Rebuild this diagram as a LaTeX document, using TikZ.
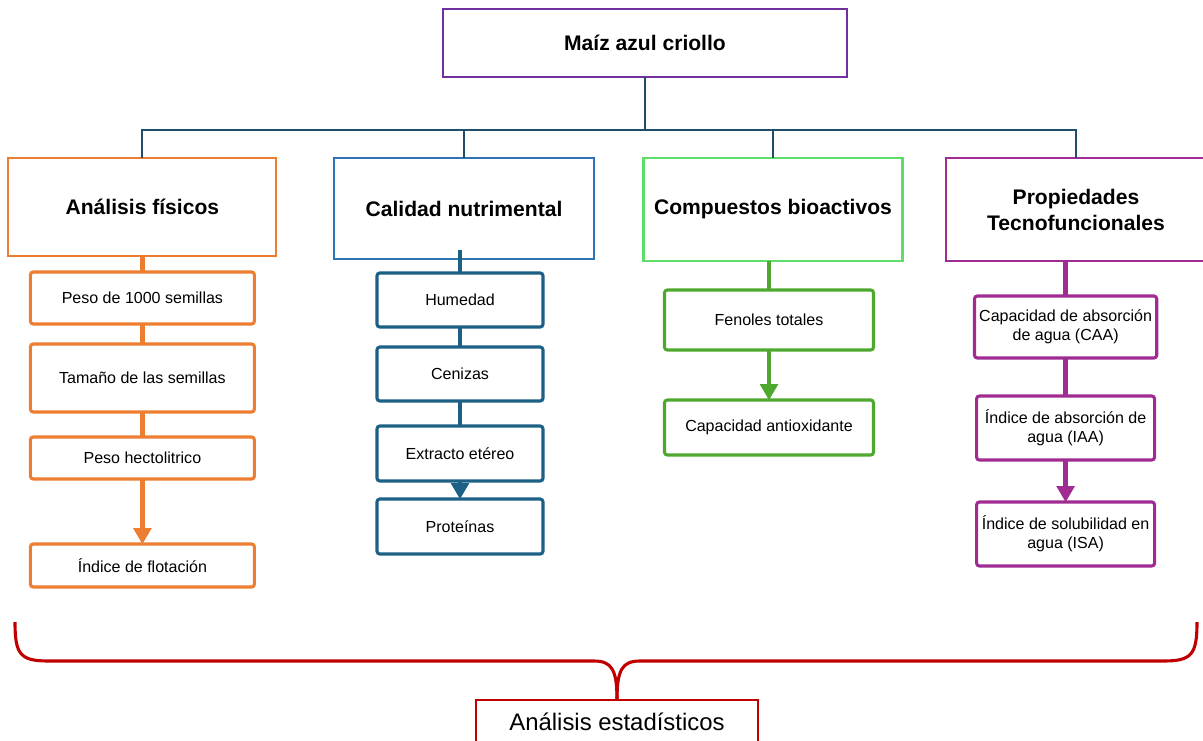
\documentclass[tikz,border=0pt]{standalone}
\usepackage{fontspec}
\setmainfont{Liberation Sans}
\usetikzlibrary{arrows.meta, positioning}

\definecolor{orangeA}{HTML}{ED7D31}
\definecolor{blueA}{HTML}{2E75B6}
\definecolor{blueB}{HTML}{1D6086}
\definecolor{greenA}{HTML}{5FDD6B}
\definecolor{greenB}{HTML}{4EA72E}
\definecolor{purpleA}{HTML}{7030A0}
\definecolor{magentaA}{HTML}{A02B93}
\definecolor{treeline}{HTML}{1F4E69}
\definecolor{redA}{HTML}{C00000}

\begin{document}
\begin{tikzpicture}[
		topbox/.style={draw=purpleA, line width=1.5pt, outer sep=0pt, minimum width=10.1cm, minimum height=1.7cm, font=\fontsize{15}{18}\selectfont\bfseries},
		groupbox/.style={draw=#1, line width=1.5pt, outer sep=0pt, align=center, anchor=north, minimum width=6.5cm, font=\fontsize{15}{18.5}\selectfont\bfseries},
		itembox/.style={draw=#1, fill=white, line width=2.2pt, outer sep=0pt, rounded corners=2pt, align=center, font=\fontsize{11.4}{13.5}\selectfont},
		fisitem/.style={itembox=orangeA, minimum width=5.6cm},
		nutitem/.style={itembox=blueB, minimum width=4.15cm},
		bioitem/.style={itembox=greenB, minimum width=5.225cm},
		tecitem/.style={itembox=magentaA, minimum width=4.45cm},
		statbox/.style={draw=redA, line width=1pt, outer sep=0pt, anchor=north, minimum width=7.05cm, minimum height=1.1cm, font=\fontsize{17}{20}\selectfont},
		tree/.style={draw=treeline, line width=1.4pt},
		link/.style={draw=#1, line width=3.5pt},
		arrow/.style={draw=#1, line width=3.5pt, -{Triangle[width=0.47cm, length=0.4cm, line width=0pt]}},
		brace/.style={draw=redA, line width=2.2pt},
		]
		\useasboundingbox (0,0) rectangle (30.075,-18.5);
		
		% Root
		\node[topbox] (maiz) at (16.125,-1.075) {Maíz azul criollo};
		\coordinate (bus) at (16.125,-3.25);
		
		% Groups
		\node[groupbox=orangeA, minimum width=6.7cm, minimum height=2.45cm] (fis) at (3.56,-3.95) {Análisis físicos};
		\node[groupbox=blueA, minimum height=2.525cm] (nut) at (11.6,-3.95) {Calidad nutrimental};
		\node[groupbox=greenA, minimum width=6.475cm, minimum height=2.575cm] (bio) at (19.325,-3.95) {Compuestos bioactivos};
		\node[groupbox=magentaA, minimum height=2.575cm] (tec) at (26.9,-3.95) {Propiedades\\Tecnofuncionales};
		
		% Tree
		\draw[tree] (maiz) -- (bus);
		\draw[tree] (fis.north) |- (bus);
		\draw[tree] (tec.north) |- (bus);
		\draw[tree] (nut.north) -- (nut.north |- bus);
		\draw[tree] (bio.north) -- (bio.north |- bus);
		
		% Physical analyses
		\node[fisitem, minimum height=1.3cm, below=0.4cm of fis] (peso) {Peso de 1000 semillas};
		\node[fisitem, minimum height=1.7cm, below=0.5cm of peso] (tam) {Tamaño de las semillas};
		\node[fisitem, minimum height=1.05cm, below=0.625cm of tam] (hecto) {Peso hectolitrico};
		\node[fisitem, minimum height=1.075cm, below=1.625cm of hecto] (flot) {Índice de flotación};
		\draw[link=orangeA] (fis) -- (peso);
		\draw[link=orangeA] (peso) -- (tam);
		\draw[link=orangeA] (tam) -- (hecto);
		\draw[arrow=orangeA] (hecto) -- (flot);
		
		% Nutritional quality
		\node[nutitem, minimum height=1.35cm, below=0.35cm of nut, xshift=-0.1cm] (hum) {Humedad};
		\node[nutitem, minimum height=1.35cm, below=0.5cm of hum] (cen) {Cenizas};
		\node[nutitem, minimum height=1.375cm, below=0.625cm of cen] (ext) {Extracto etéreo};
		\node[nutitem, minimum height=1.375cm, below=0.45cm of ext] (prot) {Proteínas};
		\draw[link=blueB] ([yshift=0.225cm]nut.south -| hum.north) -- (hum.north);
		\draw[link=blueB] (hum) -- (cen);
		\draw[link=blueB] (cen) -- (ext);
		\draw[arrow=blueB] (ext) -- (prot);
		
		% Bioactive compounds
		\node[bioitem, minimum height=1.5cm, below=0.725cm of bio, xshift=-0.1cm] (fen) {Fenoles totales};
		\node[bioitem, minimum height=1.375cm, below=1.25cm of fen] (antiox) {Capacidad antioxidante};
		\draw[link=greenB] (bio.south -| fen.north) -- (fen.north);
		\draw[arrow=greenB] (fen) -- (antiox);
		
		% Techno-functional properties
		\node[tecitem, minimum height=1.55cm, below=0.875cm of tec, xshift=-0.26cm] (caa) {Capacidad de absorción\\de agua (CAA)};
		\node[tecitem, minimum height=1.6cm, below=0.95cm of caa] (iaa) {Índice de absorción de\\agua (IAA)};
		\node[tecitem, minimum height=1.6cm, below=1.05cm of iaa] (isa) {Índice de solubilidad en\\agua (ISA)};
		\draw[link=magentaA] (tec.south -| caa.north) -- (caa.north);
		\draw[link=magentaA] (caa) -- (iaa);
		\draw[arrow=magentaA] (iaa) -- (isa);
		
		% Statistics
		\node[statbox] (stat) at (15.425,-17.5) {Análisis estadísticos};
		\coordinate (bl) at (0.375,-15.55);
		\coordinate (br) at (29.925,-15.55);
		\draw[brace] (bl) .. controls (0.375,-16.35) and (0.5,-16.525) .. (1.2,-16.525) -- (14.85,-16.525) .. controls (15.3,-16.525) and (15.425,-16.75) .. (stat.north);
		\draw[brace] (br) .. controls (29.925,-16.35) and (29.8,-16.525) .. (29.1,-16.525) -- (16,-16.525) .. controls (15.55,-16.525) and (15.425,-16.75) .. (stat.north);
		
	\end{tikzpicture}
\end{document}
